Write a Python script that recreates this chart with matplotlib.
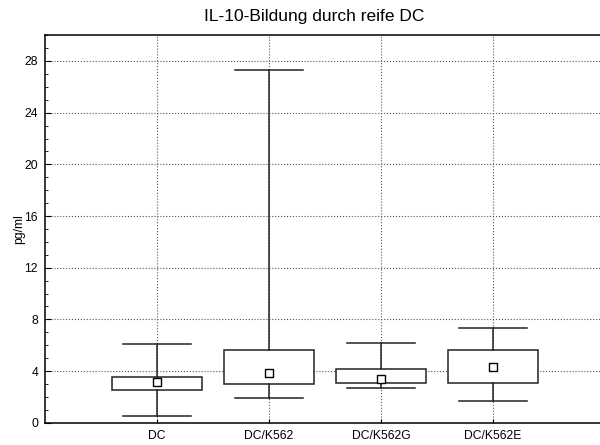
import matplotlib.pyplot as plt
from matplotlib.ticker import MultipleLocator

plt.rcParams['font.family'] = ['Liberation Sans', 'DejaVu Sans']

groups = ["DC", "DC/K562", "DC/K562G", "DC/K562E"]
whisker_low = [0.5, 1.95, 2.7, 1.65]
box_low = [2.53, 2.97, 3.10, 3.10]
median = [3.13, 3.82, 3.36, 4.29]
box_high = [3.51, 5.66, 4.13, 5.61]
whisker_high = [6.1, 27.3, 6.15, 7.34]

stats = []
for i, g in enumerate(groups):
    stats.append({
        "label": g,
        "whislo": whisker_low[i],
        "q1": box_low[i],
        "med": median[i],
        "q3": box_high[i],
        "whishi": whisker_high[i],
        "fliers": [],
    })

fig = plt.figure(figsize=(6, 4.45), dpi=100)
# right edge of the frame runs off the picture, as in the original
ax = fig.add_axes([0.075, 0.05, 0.9333, 0.871])

pos = list(range(1, len(groups) + 1))
ax.bxp(stats, positions=pos, widths=0.8, showfliers=False, patch_artist=True,
       boxprops=dict(facecolor="white", edgecolor="#222222", linewidth=1.1),
       whiskerprops=dict(color="#222222", linewidth=1.1),
       capprops=dict(color="#222222", linewidth=1.1),
       medianprops=dict(linewidth=0), capwidths=0.6, zorder=3)
ax.plot(pos, median, linestyle="none", marker="s", markersize=5.5,
        markerfacecolor="white", markeredgecolor="black", markeredgewidth=1, zorder=4)

ax.set_xlim(0, 5)
ax.set_ylim(0, 30)
ax.yaxis.set_major_locator(MultipleLocator(4))
ax.yaxis.set_minor_locator(MultipleLocator(1))
ax.set_xticks(pos)
ax.set_xticklabels(groups, fontsize=8.7)
ax.tick_params(axis="x", direction="in", length=3, pad=5)
ax.tick_params(axis="y", which="major", direction="in", length=4, labelsize=8.7, pad=5)
ax.tick_params(axis="y", which="minor", direction="in", length=2.5)
ax.grid(True, which="major", linestyle=":", color="#555555", linewidth=0.8, zorder=0)
ax.set_axisbelow(True)
ax.set_ylabel("pg/ml", fontsize=8.7)
ax.yaxis.set_label_coords(-0.035, 0.5)
fig.text(0.523, 0.962, "IL-10-Bildung durch reife DC", fontsize=12.5,
         ha="center", va="center")
for s in ax.spines.values():
    s.set_linewidth(1.1)

plt.savefig("out.png", dpi=100)
